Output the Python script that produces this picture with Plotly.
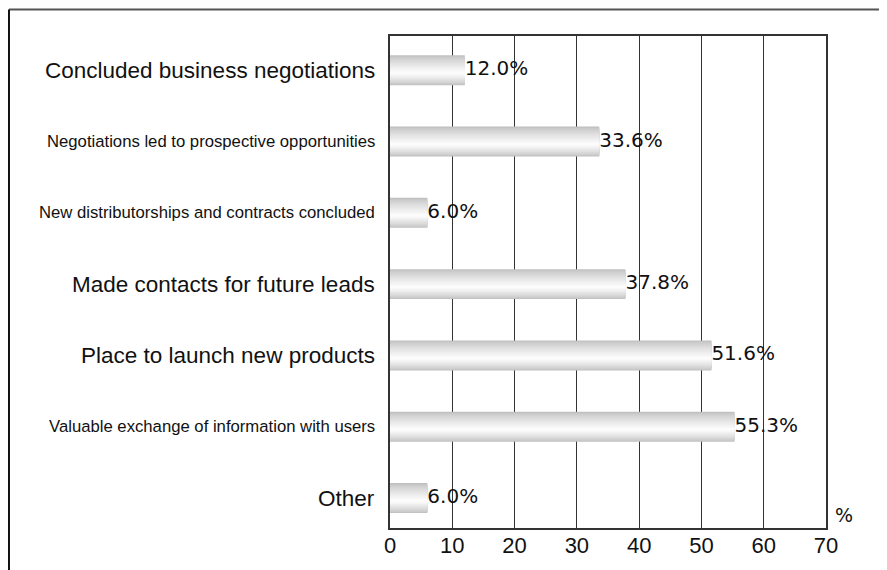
import plotly.graph_objects as go

categories = [
    "Concluded business negotiations",
    "Negotiations led to prospective opportunities",
    "New distributorships and contracts concluded",
    "Made contacts for future leads",
    "Place to launch new products",
    "Valuable exchange of information with users",
    "Other",
]
values = [12.0, 33.6, 6.0, 37.8, 51.6, 55.3, 6.0]
value_labels = [f"{v:.1f}%" for v in values]
x_ticks = [0, 10, 20, 30, 40, 50, 60, 70]
unit_label = "%"

# which category labels are set in a condensed (smaller) face
condensed = [False, True, True, False, False, True, False]

WIDE_FONT = "Liberation Sans, Arial, sans-serif"
VALUE_FONT = "DejaVu Sans, sans-serif"

fig = go.Figure()

# gradient bars built from overlaid bars of shrinking thickness
bar_h = 0.42
white_frac = 0.6
n_layers = 16
edge_gray = 192
for i in range(n_layers):
    t = i / n_layers
    top = -bar_h / 2 + t * white_frac * bar_h
    bottom = bar_h / 2 - t * (1 - white_frac) * bar_h
    g = int(round(edge_gray + (255 - edge_gray) * (t ** 0.75)))
    fig.add_trace(go.Bar(
        y=categories, x=values, orientation="h",
        width=bottom - top, offset=top,
        marker=dict(color=f"rgb({g},{g},{g})", line=dict(width=0)),
        hoverinfo="skip", showlegend=False,
    ))

fig.add_trace(go.Scatter(
    y=categories, x=values, mode="text", text=value_labels,
    textposition="middle right",
    textfont=dict(family=VALUE_FONT, size=20, color="#111"),
    showlegend=False, hoverinfo="skip", cliponaxis=False,
))

for cat, cond in zip(categories, condensed):
    fig.add_annotation(
        x=0, xref="paper", y=cat, yref="y",
        text=cat, showarrow=False, xanchor="right", yanchor="middle",
        xshift=-13,
        font=dict(family=WIDE_FONT, size=16.7 if cond else 22.5, color="#111"),
    )

fig.add_annotation(
    x=1.041, y=0.026, xref="paper", yref="paper", text=unit_label,
    showarrow=False, xanchor="center", yanchor="middle",
    font=dict(family=VALUE_FONT, size=19, color="#111"),
)

# outer frame (top and left edges of the page)
fig.add_shape(type="line", xref="paper", yref="paper",
              x0=-0.8739, x1=1.3, y0=1.0539, y1=1.0539,
              line=dict(color="#555", width=2))
fig.add_shape(type="line", xref="paper", yref="paper",
              x0=-0.8739, x1=-0.8739, y0=1.0539, y1=-0.2,
              line=dict(color="#111", width=2))

fig.update_layout(
    width=887, height=570,
    margin=dict(l=382, r=69, t=28, b=50),
    paper_bgcolor="white", plot_bgcolor="white",
    barmode="overlay",
    xaxis=dict(
        range=[0, 70], tickvals=x_ticks, ticktext=[str(v) for v in x_ticks],
        showgrid=True, gridcolor="#333", gridwidth=1.2,
        showline=True, linecolor="#333", linewidth=1.5, mirror=True,
        zeroline=False, ticks="", ticklabelstandoff=-3,
        tickfont=dict(family=WIDE_FONT, size=22, color="#111"),
    ),
    yaxis=dict(
        type="category", categoryorder="array", categoryarray=categories,
        range=[6.42, -0.48],
        showticklabels=False, showgrid=False, ticks="",
        showline=True, linecolor="#333", linewidth=1.5, mirror=True,
        zeroline=False,
    ),
)

fig.write_html("out.html")
